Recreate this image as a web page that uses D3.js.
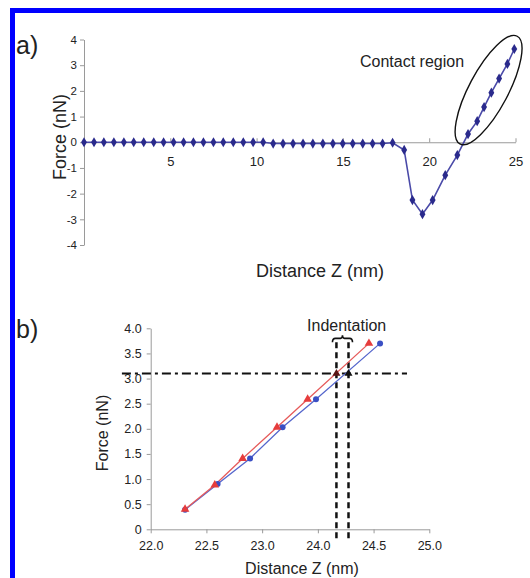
<!DOCTYPE html>
<meta charset="utf-8">
<style type="text/css">
    body { margin: 0; background: #fff; }
    svg { display: block; font-family: "Liberation Sans", Arial, sans-serif; }
    .axis path, .axis line { stroke: #9a9a9a; }
    .axis text { fill: #222; }
    .lineA { fill: none; stroke: #4a4aa8; stroke-width: 1.6; }
    .dotA { fill: #2a2a8c; }
    .lineBlue { fill: none; stroke: #5566cc; stroke-width: 1.3; }
    .lineRed { fill: none; stroke: #e65a5a; stroke-width: 1.3; }
    .dotBlue { fill: #3a4fc4; }
    .dotRed { fill: #e63c3c; }
</style>
<body>
</body>
<script src="https://d3js.org/d3.v7.min.js"></script>
<script>

    // ---- panel a data: full approach curve ----
    var distA = [0, 0.58, 1.15, 1.73, 2.31, 2.88, 3.46, 4.04, 4.61, 5.19, 5.77, 6.34, 6.92, 7.5, 8.07, 8.65,
        9.23, 9.8, 10.38, 10.96, 11.53, 12.11, 12.69, 13.26, 13.84, 14.42, 14.99, 15.57, 16.15, 16.72, 17.3, 17.88,
        18.55, 19.03, 19.61, 20.2, 20.93, 21.63, 22.25, 22.78, 23.18, 23.6, 24.05, 24.53, 24.93];
    var forceA = [0, 0, 0, 0, 0, 0, 0, 0, 0, 0, 0, 0, 0, 0, 0, 0,
        0, 0, 0, -0.05, -0.05, -0.05, -0.05, -0.05, -0.05, -0.05, -0.05, -0.05, -0.05, -0.05, -0.05, -0.02,
        -0.3, -2.25, -2.8, -2.25, -1.28, -0.5, 0.32, 0.82, 1.37, 1.93, 2.48, 3.05, 3.63];
    var xTicksA = [5, 10, 15, 20, 25];
    var yTicksA = [-4, -3, -2, -1, 0, 1, 2, 3, 4];

    // ---- panel b data: contact region, two curves ----
    var distBlue = [22.37, 22.72, 23.07, 23.42, 23.78, 24.47];
    var forceBlue = [0.39, 0.9, 1.41, 2.03, 2.59, 3.7];
    var distRed = [22.37, 22.69, 22.99, 23.36, 23.69, 24.35];
    var forceRed = [0.4, 0.88, 1.41, 2.03, 2.59, 3.7];
    var xTickPosB = [22, 22.6, 23.2, 23.8, 24.4, 25];
    var xTickLabelsB = ["22.0", "22.5", "23.0", "24.0", "24.5", "25.0"];
    var yTicksB = [0, 0.5, 1, 1.5, 2, 2.5, 3, 3.5, 4];
    var yTickLabelsB = ["0", "0.5", "1.0", "1.5", "2.0", "2.5", "3.0", "3.5", "4.0"];

    // indentation annotation (data units of panel b)
    var threshold = 3.1;
    var thresholdRange = [21.69, 24.76];
    var indentLines = [24.0, 24.13];
    var indentLineRange = [-0.26, 3.72];

    var svg = d3.select("body").append("svg")
        .attr("width", 530)
        .attr("height", 578);

    // blue frame (top and left sides visible)
    svg.append("rect").attr("x", 10).attr("y", 8).attr("width", 520).attr("height", 5).attr("fill", "#0000ff");
    svg.append("rect").attr("x", 10).attr("y", 8).attr("width", 5).attr("height", 570).attr("fill", "#0000ff");

    // ================= panel a =================
    var xA = d3.scaleLinear().domain([0, 25]).range([84, 515.5]);
    var yA = d3.scaleLinear().domain([-4, 4]).range([245, 39.5]);

    svg.append("g")
        .attr("class", "axis")
        .attr("transform", "translate(" + xA(0) + ",0)")
        .call(d3.axisLeft(yA).tickValues(yTicksA).tickFormat(function(d) { return String(d); })
            .tickSizeInner(4).tickSizeOuter(0).tickPadding(3))
        .selectAll("text").style("font-size", "11.5px");

    svg.append("g")
        .attr("class", "axis")
        .attr("transform", "translate(0," + yA(0) + ")")
        .call(d3.axisBottom(xA).tickValues(xTicksA).tickSizeInner(-4).tickSizeOuter(0).tickPadding(15))
        .selectAll("text").style("font-size", "13px");

    var pointsA = distA.map(function(d, i) { return {x: d, y: forceA[i]}; });

    var lineA = d3.line()
        .x(function(d) { return xA(d.x); })
        .y(function(d) { return yA(d.y); });

    svg.append("path")
        .datum(pointsA)
        .attr("class", "lineA")
        .attr("d", lineA);

    svg.selectAll(".dotA")
        .data(pointsA)
        .enter().append("path")
        .attr("class", "dotA")
        .attr("transform", function(d) { return "translate(" + xA(d.x) + "," + yA(d.y) + ")"; })
        .attr("d", d3.symbol().type(d3.symbolDiamond).size(30));

    // contact region ellipse
    svg.append("ellipse")
        .attr("transform", "translate(" + xA(23.44) + "," + yA(2.03) + ") rotate(-62)")
        .attr("rx", 61)
        .attr("ry", 19.5)
        .attr("fill", "none")
        .attr("stroke", "#111")
        .attr("stroke-width", 1.4);

    svg.append("text")
        .attr("x", 360).attr("y", 66.5)
        .style("font-size", "16px").attr("fill", "#222")
        .text("Contact region");

    svg.append("text")
        .attr("x", 16).attr("y", 54)
        .style("font-size", "25px").attr("fill", "#222")
        .text("a)");

    svg.append("text")
        .attr("transform", "translate(66,137) rotate(-90)")
        .attr("text-anchor", "middle")
        .style("font-size", "18px").attr("fill", "#222")
        .text("Force (nN)");

    svg.append("text")
        .attr("x", 320).attr("y", 277)
        .attr("text-anchor", "middle")
        .style("font-size", "18px").attr("fill", "#222")
        .text("Distance Z (nm)");

    // ================= panel b =================
    var xB = d3.scaleLinear().domain([22, 25]).range([150.7, 429.3]);
    var yB = d3.scaleLinear().domain([0, 4]).range([529.3, 328.3]);

    svg.append("g")
        .attr("class", "axis")
        .attr("transform", "translate(" + xB(22) + ",0)")
        .call(d3.axisLeft(yB).tickValues(yTicksB)
            .tickFormat(function(d, i) { return yTickLabelsB[i]; })
            .tickSizeInner(4).tickSizeOuter(0).tickPadding(5))
        .selectAll("text").style("font-size", "12.5px");

    svg.append("g")
        .attr("class", "axis")
        .attr("transform", "translate(0," + yB(0) + ")")
        .call(d3.axisBottom(xB).tickValues(xTickPosB)
            .tickFormat(function(d, i) { return xTickLabelsB[i]; })
            .tickSizeInner(4).tickSizeOuter(0).tickPadding(8))
        .selectAll("text").style("font-size", "12.5px");

    // threshold dash-dot line and the two indentation lines
    svg.append("line")
        .attr("x1", xB(thresholdRange[0])).attr("x2", xB(thresholdRange[1]))
        .attr("y1", yB(threshold)).attr("y2", yB(threshold))
        .attr("stroke", "#111").attr("stroke-width", 2)
        .attr("stroke-dasharray", "9,4,3,4");

    svg.selectAll(".indent")
        .data(indentLines)
        .enter().append("line")
        .attr("class", "indent")
        .attr("x1", function(d) { return xB(d); }).attr("x2", function(d) { return xB(d); })
        .attr("y1", yB(indentLineRange[1])).attr("y2", yB(indentLineRange[0]))
        .attr("stroke", "#111").attr("stroke-width", 2.5)
        .attr("stroke-dasharray", "6,4");

    var blue = distBlue.map(function(d, i) { return {x: d, y: forceBlue[i]}; });
    var red = distRed.map(function(d, i) { return {x: d, y: forceRed[i]}; });

    var lineB = d3.line()
        .x(function(d) { return xB(d.x); })
        .y(function(d) { return yB(d.y); });

    svg.append("path").datum(blue).attr("class", "lineBlue").attr("d", lineB);
    svg.append("path").datum(red).attr("class", "lineRed").attr("d", lineB);

    svg.selectAll(".dotBlue")
        .data(blue)
        .enter().append("circle")
        .attr("class", "dotBlue")
        .attr("cx", function(d) { return xB(d.x); })
        .attr("cy", function(d) { return yB(d.y); })
        .attr("r", 3);

    svg.selectAll(".dotRed")
        .data(red)
        .enter().append("path")
        .attr("class", "dotRed")
        .attr("transform", function(d) { return "translate(" + xB(d.x) + "," + yB(d.y) + ")"; })
        .attr("d", d3.symbol().type(d3.symbolTriangle).size(32));

    // dark markers where the curves cross the threshold
    svg.selectAll(".cross")
        .data([{x: indentLines[0], c: "#5a1414"}, {x: indentLines[1], c: "#111"}])
        .enter().append("path")
        .attr("class", "cross")
        .attr("transform", function(d) { return "translate(" + xB(d.x) + "," + yB(threshold) + ")"; })
        .attr("d", d3.symbol().type(d3.symbolTriangle).size(28))
        .attr("fill", function(d) { return d.c; });

    // curly bracket over the indentation
    var bx0 = xB(indentLines[0]) - 4, bx1 = xB(indentLines[1]) + 4, bxm = (bx0 + bx1) / 2, by = yB(3.8);
    svg.append("path")
        .attr("d", "M" + bx0 + "," + (by + 4) + "Q" + bx0 + "," + by + " " + (bx0 + 3) + "," + by +
            "L" + (bxm - 2) + "," + by + "Q" + bxm + "," + by + " " + bxm + "," + (by - 3) +
            "Q" + bxm + "," + by + " " + (bxm + 2) + "," + by +
            "L" + (bx1 - 3) + "," + by + "Q" + bx1 + "," + by + " " + bx1 + "," + (by + 4))
        .attr("fill", "none").attr("stroke", "#111").attr("stroke-width", 1.6);

    svg.append("text")
        .attr("x", xB(24.11)).attr("y", 331)
        .attr("text-anchor", "middle")
        .style("font-size", "16px").attr("fill", "#222")
        .text("Indentation");

    svg.append("text")
        .attr("x", 16).attr("y", 338)
        .style("font-size", "25px").attr("fill", "#222")
        .text("b)");

    svg.append("text")
        .attr("transform", "translate(108,433) rotate(-90)")
        .attr("text-anchor", "middle")
        .style("font-size", "16px").attr("fill", "#222")
        .text("Force (nN)");

    svg.append("text")
        .attr("x", 302).attr("y", 574)
        .attr("text-anchor", "middle")
        .style("font-size", "16px").attr("fill", "#222")
        .text("Distance Z (nm)");

</script>
